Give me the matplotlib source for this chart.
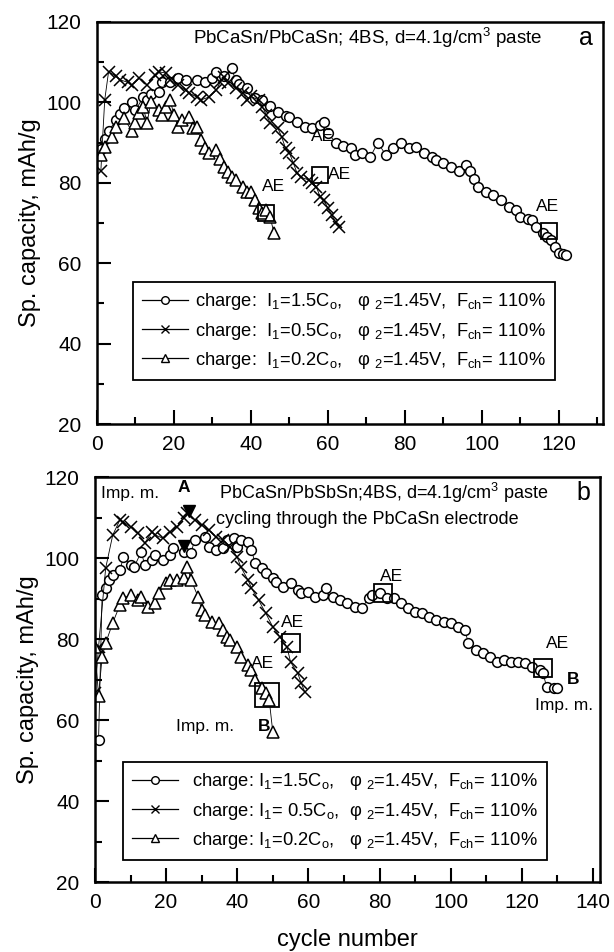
import matplotlib
matplotlib.use("Agg")
import matplotlib.pyplot as plt
from matplotlib.ticker import MultipleLocator

plt.rcParams['font.family'] = ['Liberation Sans', 'DejaVu Sans']
plt.rcParams['mathtext.fontset'] = 'custom'
plt.rcParams['mathtext.rm'] = 'Liberation Sans'
plt.rcParams['mathtext.it'] = 'Liberation Sans'
plt.rcParams['mathtext.bf'] = 'Liberation Sans:bold'

# ---- panel a: PbCaSn/PbCaSn ----
a_c15_cyc = [1, 2, 3, 5, 6, 7, 9, 10, 12, 13, 14, 16, 17, 19, 21, 23, 26, 28, 30, 31, 33, 35, 36, 37,
             39, 41, 43, 45, 47, 49, 50, 52, 54, 56, 58, 59, 60, 62, 64, 66, 67, 69, 71, 73, 75, 77,
             79, 81, 83, 85, 87, 88, 90, 92, 94, 96, 97, 98, 99, 101, 103, 105, 107, 109, 110, 112,
             113, 114, 116, 117, 118, 119, 120, 121, 122]
a_c15_val = [88.5, 91, 93, 95.5, 97, 98.6, 100, 98, 101.3, 100.6, 102, 102.6, 105, 105, 106, 105.6,
             105.6, 105, 106, 107.5, 106.5, 108.5, 105.6, 104.5, 103.6, 101, 100.6, 99, 97.6, 96.5,
             96.4, 95, 94, 93.6, 94.4, 95, 92.4, 90, 89.2, 88.6, 87, 87.4, 86.4, 90, 87, 88.6, 90,
             88.6, 89, 87.4, 86.5, 85.7, 85, 84, 83, 84.4, 83, 81, 79, 77.7, 77, 75.7, 74, 73.2, 71.5,
             71, 70.7, 69, 67.5, 66.5, 65.8, 64, 62.5, 62.2, 62]

a_c05_cyc = [1, 2, 3, 5, 6, 8, 9, 11, 13, 15, 16, 18, 19, 21, 23, 24, 26, 27, 29, 31, 32, 33, 34,
             36, 38, 39, 40, 42, 43, 44, 45, 47, 48, 49, 50, 51, 52, 53, 55, 56, 57, 58, 59, 60, 61,
             62, 63]
a_c05_val = [83, 100.6, 107.6, 106.5, 105.6, 105, 104.3, 106, 104.3, 106.8, 107.6, 107.3, 105.6,
             104.3, 103, 102.3, 101.3, 100.6, 101.3, 103, 105, 106.3, 104.8, 103.6, 102.3, 100.6,
             101.5, 100.6, 98.9, 96.9, 94.9, 93.6, 91.4, 88.6, 87.4, 85, 82.4, 81.4, 80.7, 80, 79,
             76.5, 75.7, 73.7, 72, 70.2, 69]

a_c02_cyc = [1, 2, 4, 5, 7, 9, 10, 11, 12, 13, 14, 16, 17, 18, 19, 20, 21, 22, 24, 25, 26, 27, 28,
             29, 31, 32, 33, 34, 35, 36, 38, 39, 40, 41, 42, 43, 44, 45, 46]
a_c02_val = [87, 89, 91.4, 94, 96, 93, 94.9, 97.4, 98.9, 94.9, 100, 98, 96.9, 98.9, 100.6, 96.9, 94,
             95.6, 96.4, 93.6, 94, 90.6, 88.6, 87.4, 88.2, 86, 84, 82.7, 81.4, 80.7, 79, 77.7, 77.7,
             75.7, 73.7, 72.5, 73.2, 71.5, 67.5]

a_ae_cyc = [117.5, 58, 44]
a_ae_val = [68, 82, 72.5]

# ---- panel b: PbCaSn/PbSbSn ----
b_c15_cyc = [1, 2, 3, 4, 5, 7, 8, 10, 11, 13, 14, 16, 17, 19, 21, 22, 25, 27, 28, 31, 32, 34, 36,
             37, 39, 40, 41, 43, 44, 45, 47, 48, 50, 51, 53, 55, 57, 58, 60, 62, 64, 65, 67, 69, 71,
             73, 75, 77, 78, 80, 82, 84, 86, 88, 90, 92, 94, 96, 98, 100, 102, 104, 105, 107, 109,
             111, 113, 115, 117, 119, 121, 123, 125, 126, 127, 129, 130]
b_c15_val = [55, 90.9, 92.6, 94.6, 95.8, 97, 100.2, 98.3, 97.8, 101.5, 98.3, 99.5, 100.7, 99.5,
             100.7, 102.5, 101.5, 101.2, 104.4, 105.2, 102.7, 102, 102.5, 104.4, 104.9, 102.7,
             104.4, 104, 102, 98.8, 97.5, 96.3, 95, 94, 92.8, 93.8, 92.1, 91.4, 91.6, 90.4, 90.9,
             92.6, 90.4, 89.6, 88.9, 87.9, 87.7, 90.1, 90.9, 91.4, 90.1, 90.1, 88.9, 87.7, 86.7,
             86.4, 85.4, 84.7, 84.2, 84, 83, 82.2, 79, 77.3, 76.5, 75.5, 74.3, 74.8, 74.3, 74.3, 74,
             73, 72.3, 71.6, 68.1, 67.9, 67.9]

b_c05_cyc = [0, 1, 3, 5, 7, 8, 10, 12, 14, 16, 17, 19, 21, 23, 25, 26, 28, 30, 32, 34, 36, 38, 40,
             41, 43, 44, 46, 48, 50, 52, 54, 55, 57, 58, 59]
b_c05_val = [66.7, 78, 97.5, 105.7, 109.4, 108.9, 107.7, 106.2, 103.7, 106.4, 105.7, 104.9, 106.4,
             107.7, 109.9, 111.1, 109.4, 108.1, 106.9, 105.2, 104.4, 102.7, 100.2, 97.8, 94.6, 92.6,
             89.6, 86.4, 83, 80.5, 78, 74.3, 71.6, 69.1, 66.9]

b_c02_cyc = [0, 1, 2, 3, 5, 7, 8, 10, 12, 13, 15, 17, 18, 20, 21, 23, 25, 26, 27, 29, 30, 31, 33,
             35, 36, 37, 38, 40, 41, 43, 44, 45, 47, 48, 49, 50]
b_c02_val = [78, 66, 75.5, 79, 84, 88.4, 90.1, 90.9, 89.6, 90.4, 87.9, 88.9, 91.4, 93.8, 94.6, 94.6,
             95, 97.8, 94.6, 90.4, 87.2, 85.9, 84.2, 84, 82.2, 80.5, 79.8, 78, 75.5, 73.6, 72.3,
             69.9, 67.9, 66.7, 64.9, 57]

b_imp_cyc = [26.5, 25]
b_imp_val = [111.5, 103]

b_ae_cyc = [81, 126, 55, 48.5]
b_ae_val = [91.4, 72.8, 79, 66.2]
b_ae_size = [13, 13, 13, 17]

leg_a = [r"charge:  I$_1$=1.5C$_\mathrm{o}$,   φ $_2$=1.45V,  F$_\mathrm{ch}$= 110%",
         r"charge:  I$_1$=0.5C$_\mathrm{o}$,   φ $_2$=1.45V,  F$_\mathrm{ch}$= 110%",
         r"charge:  I$_1$=0.2C$_\mathrm{o}$,   φ $_2$=1.45V,  F$_\mathrm{ch}$= 110%"]
leg_b = [r"charge: I$_1$=1.5C$_\mathrm{o}$,   φ $_2$=1.45V,  F$_\mathrm{ch}$= 110%",
         r"charge: I$_1$= 0.5C$_\mathrm{o}$,  φ $_2$=1.45V,  F$_\mathrm{ch}$= 110%",
         r"charge: I$_1$=0.2C$_\mathrm{o}$,   φ $_2$=1.45V,  F$_\mathrm{ch}$= 110%"]


def style_axes(ax, xmax):
    ax.set_xlim(0, xmax)
    ax.set_ylim(20, 120)
    ax.xaxis.set_major_locator(MultipleLocator(20))
    ax.xaxis.set_minor_locator(MultipleLocator(10))
    ax.yaxis.set_major_locator(MultipleLocator(20))
    ax.yaxis.set_minor_locator(MultipleLocator(10))
    ax.tick_params(which='both', direction='in', width=1.5, labelsize=15,
                   top=False, right=False)
    ax.tick_params(axis='y', pad=11)
    ax.tick_params(axis='x', pad=8)
    ax.tick_params(which='major', length=10)
    ax.tick_params(which='minor', length=5)
    for s in ax.spines.values():
        s.set_linewidth(1.8)
    ax.set_ylabel("Sp. capacity, mAh/g", fontsize=17, labelpad=4)


def draw_series(ax, cyc, val, marker, ms):
    ax.plot(cyc, val, color='black', lw=0.6, marker=marker, ms=ms, mfc='white',
            mec='black', mew=1.1)


def add_legend(ax, labels, anchor, textpad):
    h = [ax.plot([], [], color='black', lw=0.9, marker=m, ms=5.5, mfc='white', mec='black')[0]
         for m in ['o', 'x', '^']]
    leg = ax.legend(h, labels, loc='upper left', bbox_to_anchor=anchor, fontsize=13.2,
                    frameon=True, fancybox=False, edgecolor='black', framealpha=1,
                    handlelength=2.5, borderpad=0.5, labelspacing=0.45, handletextpad=textpad,
                    borderaxespad=0)
    leg.get_frame().set_linewidth(1.3)


fig = plt.figure(figsize=(6.14, 9.52), dpi=100)
ax1 = fig.add_axes([0.158, 0.5546, 0.824, 0.4223])
ax2 = fig.add_axes([0.1547, 0.0735, 0.8225, 0.4254])

# panel a
draw_series(ax1, a_c15_cyc, a_c15_val, 'o', 7)
draw_series(ax1, a_c05_cyc, a_c05_val, 'x', 8.5)
draw_series(ax1, a_c02_cyc, a_c02_val, '^', 8)
ax1.plot(a_ae_cyc, a_ae_val, ls='none', marker='s', ms=11, mfc='none', mec='black', mew=1.3)
for x, y, t in [(117, 74, "AE"), (46, 79, "AE"), (63, 82, "AE"), (58.5, 91.5, "AE")]:
    ax1.text(x, y, t, fontsize=12.5, ha='center', va='center')
style_axes(ax1, 131.5)
ax1.text(0.19, 0.99, r"PbCaSn/PbCaSn; 4BS, d=4.1g/cm$^3$ paste", transform=ax1.transAxes,
         fontsize=13.5, ha='left', va='top')
ax1.text(0.98, 0.99, "a", transform=ax1.transAxes, fontsize=18, ha='right', va='top')
add_legend(ax1, leg_a, (0.071, 0.353), 0.4)

# panel b
draw_series(ax2, b_c15_cyc, b_c15_val, 'o', 7)
draw_series(ax2, b_c05_cyc, b_c05_val, 'x', 8.5)
draw_series(ax2, b_c02_cyc, b_c02_val, '^', 8)
ax2.plot(b_imp_cyc, b_imp_val, ls='none', marker='v', ms=8, color='black')
for x, y, s in zip(b_ae_cyc, b_ae_val, b_ae_size):
    ax2.plot(x, y, marker='s', ms=s, mfc='none', mec='black', mew=1.3)
for x, y, t in [(83.5, 95.5, "AE"), (130, 79, "AE"), (55.5, 84, "AE"), (47, 74, "AE")]:
    ax2.text(x, y, t, fontsize=12.5, ha='center', va='center')
ax2.text(10, 116, "Imp. m.", fontsize=12.5, ha='center', va='center')
ax2.text(25, 117.5, "A", fontsize=12.5, ha='center', va='center', fontweight='bold')
ax2.text(132, 63.5, "Imp. m.", fontsize=12.5, ha='center', va='center')
ax2.text(134.5, 70, "B", fontsize=12.5, ha='center', va='center', fontweight='bold')
ax2.text(31, 58.5, "Imp. m.", fontsize=12.5, ha='center', va='center')
ax2.text(47.5, 58.5, "B", fontsize=12.5, ha='center', va='center', fontweight='bold')
ax2.text(0.245, 0.99, r"PbCaSn/PbSbSn;4BS, d=4.1g/cm$^3$ paste", transform=ax2.transAxes,
         fontsize=13, ha='left', va='top')
ax2.text(0.24, 0.915, "cycling through the PbCaSn electrode", transform=ax2.transAxes,
         fontsize=13, ha='left', va='top')
ax2.text(0.98, 0.99, "b", transform=ax2.transAxes, fontsize=18, ha='right', va='top')
add_legend(ax2, leg_b, (0.055, 0.296), 0.8)
style_axes(ax2, 142)
ax2.set_xlabel("cycle number", fontsize=17, labelpad=12)

fig.savefig("out.png", dpi=100)
